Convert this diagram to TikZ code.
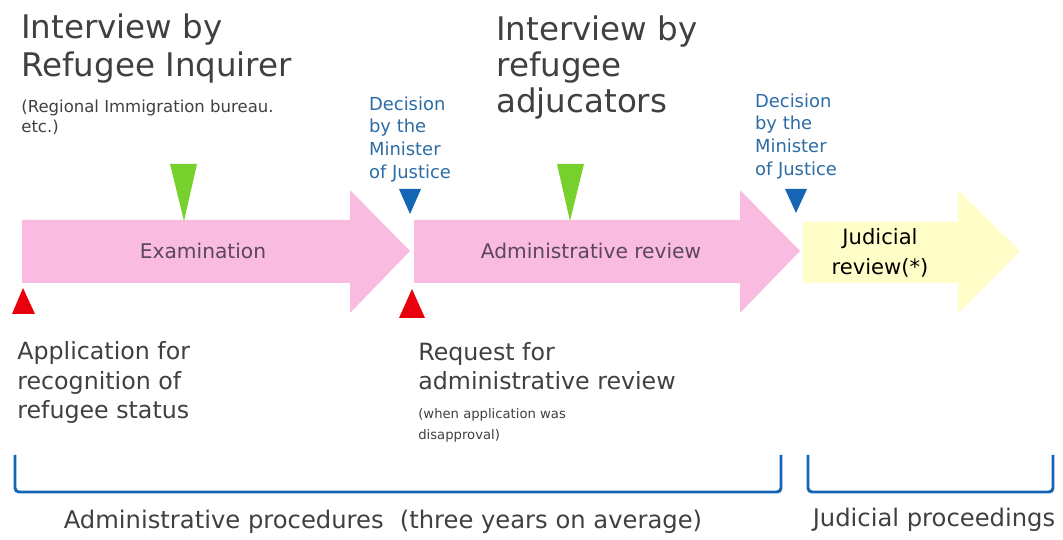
\documentclass[tikz,border=0pt]{standalone}
\usepackage{fontspec}
\setmainfont{DejaVu Sans}
\usetikzlibrary{positioning}

\definecolor{stagepink}{HTML}{F9BBE0}
\definecolor{stageyellow}{HTML}{FFFDC8}
\definecolor{markgreen}{HTML}{78D02C}
\definecolor{markred}{HTML}{E8000F}
\definecolor{markblue}{HTML}{1565B5}
\definecolor{decblue}{HTML}{2C6BA4}
\definecolor{textgray}{HTML}{404040}
\definecolor{labelpurple}{HTML}{5A4660}

\begin{document}
\begin{tikzpicture}[
  x=0.02cm, y=-0.02cm,
  every node/.style={inner sep=0pt, text=textgray},
  heading/.style={font=\fontsize{18.5}{22}\selectfont, align=left, anchor=base west},
  subnote/.style={font=\fontsize{9.4}{11.4}\selectfont, align=left, anchor=base west},
  decision/.style={font=\fontsize{10.2}{12.9}\selectfont, align=left, text=decblue},
  stagelabel/.style={font=\fontsize{11.5}{17}\selectfont, align=center, text=labelpurple},
  event/.style={font=\fontsize{13.5}{16.8}\selectfont, align=left, anchor=base west},
  smallnote/.style={font=\fontsize{7.5}{12.5}\selectfont, align=left, anchor=base west},
  spanlabel/.style={font=\fontsize{13.8}{16}\selectfont},
  span/.style={draw=markblue, line width=1.7pt, rounded corners=0.08cm}
]
\useasboundingbox (0,0) rectangle (1063,540);

% stage arrows
\fill[stagepink] (22,220) -- (350,220) -- (350,190) -- (410,251) -- (350,313) -- (350,283) -- (22,283) -- cycle;
\fill[stagepink] (414,220) -- (740,220) -- (740,190) -- (800,251) -- (740,313) -- (740,283) -- (414,283) -- cycle;
\fill[stageyellow] (803,222) -- (958,222) -- (958,190) -- (1020,251) -- (958,313) -- (958,283) -- (803,283) -- cycle;
\node[stagelabel] (exam) at (203,251) {Examination};
\node[stagelabel] (review) at (591,251) {Administrative review};
\node[stagelabel, text=black, font=\fontsize{12}{17}\selectfont] (judicial) at (880,253) {Judicial\\review(*)};

% markers
\fill[markgreen] (170,164) -- (197,164) -- (184,221) -- cycle;
\fill[markgreen] (557,164) -- (584,164) -- (570,221) -- cycle;
\fill[markblue] (399,189) -- (421,189) -- (410,214) -- cycle;
\fill[markblue] (785,189) -- (807,189) -- (796,213) -- cycle;
\fill[markred] (12,314) -- (35,314) -- (23,288) -- cycle;
\fill[markred] (399,318) -- (425,318) -- (412,289) -- cycle;
\coordinate (dec1) at (410,189);
\coordinate (dec2) at (796,189);

% interviews
\node[heading] (inquirer) at (21,77) {Interview by\\Refugee Inquirer};
\node[subnote] (bureau) at (21,133) {(Regional Immigration bureau.\\etc.)};
\node[heading, font=\fontsize{18.5}{20.5}\selectfont] (adjud) at (496,113) {Interview by\\refugee\\adjucators};

% decisions
\node[decision, above=0.14cm of dec1] (minister1) {Decision\\by the\\Minister\\of Justice};
\node[decision, above=0.2cm of dec2] (minister2) {Decision\\by the\\Minister\\of Justice};

% events below
\node[event] (apply) at (17,419) {Application for\\recognition of\\refugee status};
\node[event] (request) at (418,390) {Request for\\administrative review};
\node[smallnote] (disapp) at (418,440) {(when application was\\disapproval)};

% spans
\draw[span] (15,455) -- (15,492) -- (781,492) -- (781,455);
\draw[span] (808,455) -- (808,492) -- (1053,492) -- (1053,455);
\node[spanlabel] (admin) at (383,522) {Administrative procedures\,\,\,\,(three years on average)};
\node[spanlabel] (court) at (934,520) {Judicial proceedings};
\end{tikzpicture}
\end{document}
